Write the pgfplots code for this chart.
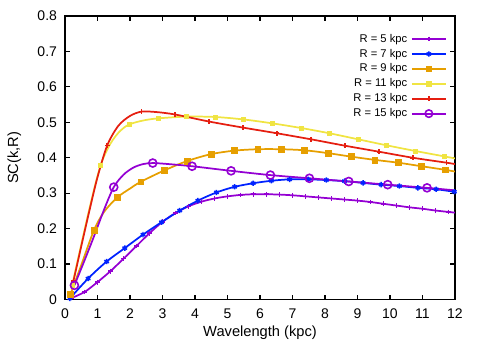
\documentclass[border=0pt]{standalone}
\usepackage{fontspec}
\setmainfont{Liberation Sans}
\usepackage{pgfplots}
\pgfplotsset{compat=1.18}
\definecolor{cviolet}{HTML}{9400D3}
\definecolor{cblue}{HTML}{0022FF}
\definecolor{corange}{HTML}{E69F00}
\definecolor{cyellow}{HTML}{F0E442}
\definecolor{cred}{HTML}{E51E10}

\pgfplotstableread{
x y
0.2 0.004
0.6 0.021
1.0 0.049
1.4 0.080
1.8 0.115
2.2 0.151
2.6 0.187
3.0 0.219
3.4 0.244
3.8 0.263
4.2 0.276
4.6 0.285
5.0 0.291
5.4 0.295
5.8 0.297
6.2 0.297
6.6 0.296
7.0 0.294
7.4 0.291
7.8 0.288
8.2 0.285
8.6 0.282
9.0 0.279
9.4 0.275
9.8 0.270
10.2 0.265
10.6 0.260
11.0 0.256
11.4 0.251
11.8 0.247
}\rfivemarks
\pgfplotstableread{
x y
0.2 0.004
0.6 0.021
1.0 0.049
1.4 0.080
1.8 0.115
2.2 0.151
2.6 0.187
3.0 0.219
3.4 0.244
3.8 0.263
4.2 0.276
4.6 0.285
5.0 0.291
5.4 0.295
5.8 0.297
6.2 0.297
6.6 0.296
7.0 0.294
7.4 0.291
7.8 0.288
8.2 0.285
8.6 0.282
9.0 0.279
9.4 0.275
9.8 0.270
10.2 0.265
10.6 0.260
11.0 0.256
11.4 0.251
11.8 0.247
12.0 0.245
}\rfiveline

\pgfplotstableread{
x y
0.15 0.003
0.71 0.059
1.28 0.107
1.84 0.145
2.40 0.183
2.97 0.218
3.53 0.251
4.09 0.279
4.66 0.302
5.22 0.318
5.79 0.328
6.35 0.335
6.91 0.339
7.48 0.339
8.04 0.337
8.60 0.334
9.17 0.329
9.73 0.324
10.29 0.320
10.86 0.315
11.42 0.311
11.98 0.304
}\rsevenmarks
\pgfplotstableread{
x y
0.15 0.003
0.71 0.059
1.28 0.107
1.84 0.145
2.40 0.183
2.97 0.218
3.53 0.251
4.09 0.279
4.66 0.302
5.22 0.318
5.79 0.328
6.35 0.335
6.91 0.339
7.48 0.339
8.04 0.337
8.60 0.334
9.17 0.329
9.73 0.324
10.29 0.320
10.86 0.315
11.42 0.311
11.98 0.304
12.0 0.304
}\rsevenline

\pgfplotstableread{
x y
0.17 0.015
0.89 0.195
1.61 0.288
2.33 0.332
3.05 0.364
3.77 0.391
4.49 0.410
5.21 0.420
5.93 0.424
6.65 0.424
7.37 0.421
8.09 0.413
8.81 0.403
9.53 0.394
10.25 0.386
10.97 0.376
11.69 0.366
}\rninemarks
\pgfplotstableread{
x y
0.17 0.015
0.5 0.097
0.89 0.195
1.2 0.247
1.61 0.288
2.0 0.313
2.33 0.332
3.05 0.364
3.77 0.391
4.49 0.410
5.21 0.420
5.93 0.424
6.65 0.424
7.37 0.421
8.09 0.413
8.81 0.403
9.53 0.394
10.25 0.386
10.97 0.376
11.69 0.366
12.0 0.361
}\rnineline

\pgfplotstableread{
x y
0.22 0.040
1.10 0.380
1.98 0.494
2.86 0.511
3.74 0.516
4.62 0.515
5.50 0.508
6.38 0.497
7.26 0.484
8.14 0.469
9.02 0.452
9.90 0.435
10.78 0.419
11.66 0.404
}\relevenmarks
\pgfplotstableread{
x y
0.22 0.040
0.5 0.155
0.8 0.275
1.10 0.380
1.4 0.440
1.7 0.476
1.98 0.494
2.4 0.505
2.86 0.511
3.74 0.516
4.62 0.515
5.50 0.508
6.38 0.497
7.26 0.484
8.14 0.469
9.02 0.452
9.90 0.435
10.78 0.419
11.66 0.404
12.0 0.398
}\relevenline

\pgfplotstableread{
x y
0.26 0.052
1.30 0.435
2.35 0.530
3.39 0.522
4.44 0.502
5.48 0.485
6.52 0.469
7.57 0.452
8.61 0.434
9.66 0.417
10.70 0.400
11.74 0.386
}\rthirteenmarks
\pgfplotstableread{
x y
0.26 0.052
0.5 0.150
0.77 0.258
1.0 0.345
1.30 0.435
1.64 0.490
2.0 0.518
2.35 0.530
2.8 0.529
3.39 0.522
4.44 0.502
5.48 0.485
6.52 0.469
7.57 0.452
8.61 0.434
9.66 0.417
10.70 0.400
11.74 0.386
12.0 0.382
}\rthirteenline

\pgfplotstableread{
x y
0.29 0.040
1.50 0.317
2.70 0.385
3.91 0.376
5.11 0.363
6.32 0.351
7.52 0.342
8.73 0.333
9.93 0.324
11.14 0.315
}\rfifteenmarks
\pgfplotstableread{
x y
0.29 0.040
0.6 0.110
0.9 0.180
1.2 0.253
1.50 0.317
1.8 0.352
2.1 0.372
2.4 0.382
2.70 0.385
3.2 0.382
3.91 0.376
5.11 0.363
6.32 0.351
7.52 0.342
8.73 0.333
9.93 0.324
11.14 0.315
12.0 0.308
}\rfifteenline

\begin{document}
\begin{tikzpicture}[font=\fontsize{10.5}{12}\selectfont]
\begin{axis}[
  at={(0,0)}, anchor=south west,
  scale only axis, width=292.5pt, height=212.6pt,
  xmin=0, xmax=12, ymin=0, ymax=0.8,
  xtick={0,1,2,3,4,5,6,7,8,9,10,11,12},
  ytick={0,0.1,0.2,0.3,0.4,0.5,0.6,0.7,0.8},
  /pgf/number format/assume math mode=true,
  yticklabel style={/pgf/number format/fixed, /pgf/number format/precision=1, anchor=east, xshift=-2.5pt},
  xticklabel style={anchor=base, yshift=-14.1pt},
  tick align=inside, tick pos=both, major tick length=3.5pt,
  axis line style={line width=0.8pt},
  every tick/.style={black, line width=0.8pt},
  xlabel={Wavelength (kpc)}, ylabel={SC(k,R)},
  label style={font=\fontsize{11}{13}\selectfont},
  xlabel style={at={(axis description cs:0.5,-0.119)}, anchor=center},
  ylabel style={at={(axis description cs:-0.130,0.5)}, anchor=center},
  legend style={draw=none, fill=none, at={(axis description cs:1,1)}, anchor=north east, xshift=-3pt, yshift=-9.5pt,
    nodes={inner sep=1.8pt}, column sep=1pt, font=\fontsize{8.4}{10}\selectfont},
  legend cell align=right,
  legend plot pos=right,
  legend image code/.code={\draw[mark repeat=2,mark phase=2,#1] plot coordinates {(0pt,0pt) (12.75pt,0pt) (25.5pt,0pt)};},
  clip=true,
]
% R=5
\addplot[cviolet, line width=1.3pt, smooth, forget plot] table {\rfiveline};
\addplot[cviolet, only marks, mark=+, mark size=1.8pt, mark options={line width=1.1pt}, forget plot] table {\rfivemarks};
% R=7
\addplot[cblue, line width=1.3pt, smooth, forget plot] table {\rsevenline};
\addplot[cblue, only marks, mark=asterisk, mark size=2pt, mark options={line width=1.1pt}, forget plot] table {\rsevenmarks};
% R=9
\addplot[corange, line width=1.3pt, smooth, forget plot] table {\rnineline};
\addplot[corange, only marks, mark=square*, mark size=2.2pt, forget plot] table {\rninemarks};
% R=11
\addplot[cyellow, line width=1.3pt, smooth, forget plot] table {\relevenline};
\addplot[cyellow, only marks, mark=square*, mark size=1.5pt, forget plot] table {\relevenmarks};
% R=13
\addplot[cred, line width=1.3pt, smooth, forget plot] table {\rthirteenline};
\addplot[cred, only marks, mark=+, mark size=1.8pt, mark options={line width=1.2pt}, forget plot] table {\rthirteenmarks};
% R=15
\addplot[cviolet, line width=1.3pt, smooth, forget plot] table {\rfifteenline};
\addplot[cviolet, only marks, mark=o, mark size=3pt, mark options={line width=1.2pt}, forget plot] table {\rfifteenmarks};

\addlegendimage{cviolet, line width=1.3pt, mark=+, mark size=1.8pt, mark options={line width=1.1pt}}
\addlegendentry{R = 5 kpc}
\addlegendimage{cblue, line width=1.3pt, mark=asterisk, mark size=2pt, mark options={line width=1.1pt}}
\addlegendentry{R = 7 kpc}
\addlegendimage{corange, line width=1.3pt, mark=square*, mark size=1.8pt}
\addlegendentry{R = 9 kpc}
\addlegendimage{cyellow, line width=1.3pt, mark=square*, mark size=1.5pt}
\addlegendentry{R = 11 kpc}
\addlegendimage{cred, line width=1.3pt, mark=+, mark size=1.8pt, mark options={line width=1.2pt}}
\addlegendentry{R = 13 kpc}
\addlegendimage{cviolet, line width=1.3pt, mark=o, mark size=2.8pt, mark options={line width=1.2pt}}
\addlegendentry{R = 15 kpc}
\end{axis}
\pgfresetboundingbox
\path[use as bounding box] (-48.75pt,-32.6pt) rectangle (311.25pt,224.6pt);
\end{tikzpicture}
\end{document}
